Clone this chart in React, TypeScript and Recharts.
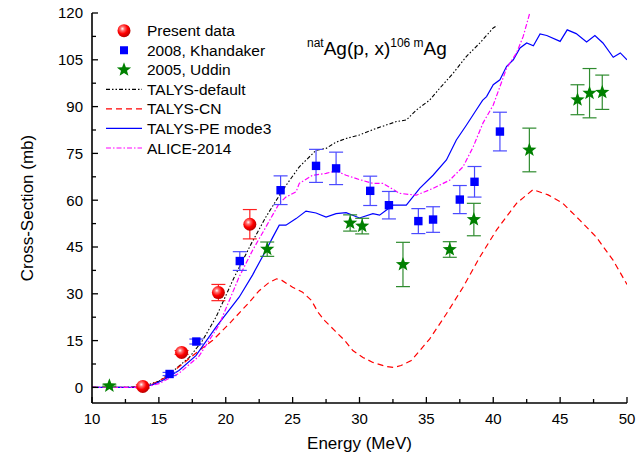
import React from "react";
import { ComposedChart, ErrorBar, Line, Scatter, XAxis, YAxis } from "recharts";

// measured points
const presentE = [13.8, 16.7, 19.45, 21.8];
const presentV = [0.3, 11.2, 30.4, 52.3];
const presentErr = [0.5, 0.6, 2.6, 4.7];

const khandakerE = [15.8, 17.8, 21.05, 24.1, 26.75, 28.25, 30.8, 32.2, 34.4, 35.5, 37.5, 38.6, 40.5];
const khandakerV = [4.3, 14.7, 40.5, 63.2, 71.0, 70.2, 63.0, 58.4, 53.3, 53.8, 60.2, 65.9, 82.0];
const khandakerErr = [0.5, 0.8, 3.0, 4.6, 5.3, 5.2, 4.7, 4.4, 4.0, 4.1, 4.5, 4.9, 6.2];

const uddinE = [11.3, 23.1, 29.3, 30.2, 33.25, 36.75, 38.55, 42.7, 46.3, 47.2, 48.15];
const uddinV = [0.5, 44.3, 52.7, 51.7, 39.4, 44.2, 53.8, 76.1, 92.2, 94.3, 94.6];
const uddinErr = [0.3, 2.3, 2.6, 2.5, 7.1, 2.5, 5.2, 7.0, 4.8, 7.9, 5.5];

// model curves
const defaultE = [10, 12, 13, 14, 15, 16, 17.27, 18.26, 19.27, 20.6, 21.9, 23, 24.25, 25.5, 26.75, 27.5, 28.2, 29, 30, 31.25, 32.75, 33.5, 34.25, 35.25, 36, 37, 38, 39, 40, 40.3];
const defaultV = [0, 0, 0.1, 0.6, 2, 5, 9.6, 15, 22.5, 35, 46, 54.6, 63.2, 70.7, 76, 76.6, 78.5, 79.8, 80.9, 83, 85.2, 85.7, 88.9, 92.1, 95.9, 100.7, 106.1, 110.4, 115.2, 116];

const cnE = [10, 13, 14.27, 15.5, 16.77, 18, 19, 20.26, 21.76, 22.5, 23.2, 23.8, 24.2, 25, 25.75, 26.4, 26.9, 27.4, 28.15, 28.9, 29.5, 30.26, 31, 32, 32.6, 33.1, 33.87, 35.24, 36.5, 37.74, 39, 40.24, 41.74, 42.98, 44.1, 45.2, 46.47, 47.7, 48.97, 50];
const cnV = [0, 0, 0.5, 3.2, 7.5, 11.8, 15, 20.4, 27.3, 31, 33.5, 34.8, 34.3, 32.1, 30.5, 27.9, 24.1, 21.4, 18.2, 15, 11.8, 9.6, 8, 6.7, 6.4, 7, 8.6, 15.5, 23.6, 32.1, 41.8, 50.4, 59, 63.4, 61.7, 59, 53.6, 48.2, 40.7, 33];

const peE = [10, 12, 13.5, 14.5, 15.27, 16.5, 17.77, 19.27, 21, 22, 23, 23.5, 24, 24.5, 25.26, 26, 26.75, 27.5, 28.25, 29, 30, 31, 31.5, 32.5, 33.5, 34.5, 35.5, 36.5, 37.24, 38, 38.73, 39.2, 39.5, 40, 40.5, 41, 41.5, 42, 42.5, 43, 43.5, 44, 45, 45.53, 46.2, 46.98, 47.6, 48.2, 48.97, 49.5, 50];
const peV = [0, 0, 0.1, 0.8, 2.2, 5.4, 10.2, 19.3, 28.9, 36, 43.9, 48, 52, 52, 54.1, 56.5, 55.9, 54.6, 55.7, 56, 54.3, 55.7, 55.2, 58.4, 58.4, 63.8, 68, 72.9, 79.3, 84.1, 88.9, 92, 93.2, 97, 98.6, 102.9, 105, 108.8, 110.4, 109.5, 113.3, 112.8, 110.9, 114.6, 113.4, 110.7, 112.8, 110.4, 105.8, 107.2, 105];

const aliceE = [10, 13, 14, 15, 16.5, 18, 19.5, 21, 22, 23, 24, 24.5, 25.26, 25.5, 26.5, 27.5, 28.25, 29, 30, 31, 31.75, 33, 34.25, 35.5, 36.74, 37.74, 38.5, 39.23, 40, 41, 41.74, 42.24, 42.73];
const aliceV = [0, 0, 0.1, 1.2, 4.5, 10, 20, 35.4, 43.9, 51.4, 59, 61, 62.7, 65.4, 68, 68.6, 69.4, 68, 66.6, 65.4, 65.4, 62.2, 61.6, 63.8, 66.4, 70.7, 77.1, 84.7, 90.5, 102.3, 107.2, 112.5, 120];

const xTicks = [10, 12.5, 15, 17.5, 20, 22.5, 25, 27.5, 30, 32.5, 35, 37.5, 40, 42.5, 45, 47.5, 50];
const yTicks = [0, 7.5, 15, 22.5, 30, 37.5, 45, 52.5, 60, 67.5, 75, 82.5, 90, 97.5, 105, 112.5, 120];

const pts = (xs: number[], ys: number[], errs?: number[]) =>
  xs.map((x, i) => ({ x, y: ys[i], err: errs ? errs[i] : 0 }));

const FONT = "Arial, 'Liberation Sans', sans-serif";

const BottomTick = (p: any) => {
  const v = p.payload.value;
  const major = v % 5 === 0;
  return (
    <g>
      <line x1={p.x} x2={p.x} y1={p.y} y2={p.y - (major ? 6 : 4)} stroke="#000" strokeWidth={1.3} />
      {major && (
        <text x={p.x} y={p.y + 20.5} textAnchor="middle" fontSize={15} fontFamily={FONT} fill="#000">
          {v}
        </text>
      )}
    </g>
  );
};

const TopTick = (p: any) => {
  const major = p.payload.value % 5 === 0;
  return <line x1={p.x} x2={p.x} y1={p.y} y2={p.y + (major ? 6 : 4)} stroke="#000" strokeWidth={1.3} />;
};

const LeftTick = (p: any) => {
  const v = p.payload.value;
  const major = v % 15 === 0;
  return (
    <g>
      <line x1={p.x} x2={p.x + (major ? 6 : 4)} y1={p.y} y2={p.y} stroke="#000" strokeWidth={1.3} />
      {major && (
        <text x={p.x - 9} y={p.y + 5.3} textAnchor="end" fontSize={15} fontFamily={FONT} fill="#000">
          {v}
        </text>
      )}
    </g>
  );
};

const RightTick = (p: any) => {
  const major = p.payload.value % 15 === 0;
  return <line x1={p.x} x2={p.x - (major ? 6 : 4)} y1={p.y} y2={p.y} stroke="#000" strokeWidth={1.3} />;
};

const Ball = ({ cx, cy }: any) => <circle cx={cx} cy={cy} r={6.5} fill="url(#ballGrad)" />;
const Square = ({ cx, cy }: any) => <rect x={cx - 4.2} y={cy - 4.2} width={8.4} height={8.4} fill="#0000ff" />;

function starPath(cx: number, cy: number, R: number) {
  const r = R * 0.42;
  let d = "";
  for (let i = 0; i < 10; i++) {
    const a = (Math.PI / 5) * i - Math.PI / 2;
    const rr = i % 2 === 0 ? R : r;
    d += (i === 0 ? "M" : "L") + (cx + rr * Math.cos(a)).toFixed(2) + "," + (cy + rr * Math.sin(a)).toFixed(2);
  }
  return d + "Z";
}
const Star = ({ cx, cy }: any) => <path d={starPath(cx, cy, 7.5)} fill="#008000" />;

const legendRows = [
  { label: "Present data", kind: "ball" },
  { label: "2008, Khandaker", kind: "square" },
  { label: "2005, Uddin", kind: "star" },
  { label: "TALYS-default", kind: "line", color: "#000000", dash: "4 2 1.5 2 1.5 2" },
  { label: "TALYS-CN", kind: "line", color: "#ff0000", dash: "6 4" },
  { label: "TALYS-PE mode3", kind: "line", color: "#0000ff", dash: "" },
  { label: "ALICE-2014", kind: "line", color: "#ff00ff", dash: "5 2 1.5 2" },
];

export default function App() {
  return (
    <div style={{ position: "relative", width: 636, height: 459, background: "#fff" }}>
      <style>{"body{margin:0}"}</style>
      <svg width={0} height={0} style={{ position: "absolute" }}>
        <defs>
          <radialGradient id="ballGrad" cx="0.38" cy="0.35" r="0.7">
            <stop offset="0" stopColor="#ffffff" />
            <stop offset="0.22" stopColor="#ff7070" />
            <stop offset="0.55" stopColor="#ff0000" />
            <stop offset="1" stopColor="#b00000" />
          </radialGradient>
        </defs>
      </svg>
      <ComposedChart width={636} height={459} margin={{ top: 13, right: 9, left: 0, bottom: 0 }}>
        <XAxis
          dataKey="x"
          type="number"
          domain={[10, 50]}
          ticks={xTicks}
          interval={0}
          allowDataOverflow
          height={56}
          tickSize={0}
          tickMargin={0}
          tickLine={false}
          tick={BottomTick}
          axisLine={{ stroke: "#000", strokeWidth: 1.6 }}
          label={{ value: "Energy (MeV)", position: "insideBottom", offset: 10, fontSize: 17, fontFamily: FONT, fill: "#000" }}
        />
        <XAxis
          xAxisId="top"
          orientation="top"
          dataKey="x"
          type="number"
          domain={[10, 50]}
          ticks={xTicks}
          interval={0}
          height={0}
          tickSize={0}
          tickMargin={0}
          tickLine={false}
          tick={TopTick}
          axisLine={{ stroke: "#000", strokeWidth: 1.6 }}
        />
        <YAxis
          type="number"
          domain={[-5, 120]}
          ticks={yTicks}
          interval={0}
          allowDataOverflow
          width={92}
          tickSize={0}
          tickMargin={0}
          tickLine={false}
          tick={LeftTick}
          axisLine={{ stroke: "#000", strokeWidth: 1.6 }}
          label={{ value: "Cross-Section (mb)", angle: -90, position: "insideLeft", offset: 27, style: { textAnchor: "middle" }, fontSize: 17, fontFamily: FONT, fill: "#000" }}
        />
        <YAxis
          yAxisId="right"
          orientation="right"
          type="number"
          domain={[-5, 120]}
          ticks={yTicks}
          interval={0}
          width={0}
          tickSize={0}
          tickMargin={0}
          tickLine={false}
          tick={RightTick}
          axisLine={{ stroke: "#000", strokeWidth: 1.6 }}
        />
        <Line data={pts(defaultE, defaultV)} dataKey="y" type="linear" stroke="#000000" strokeWidth={1.1} strokeDasharray="4 2 1.5 2 1.5 2" dot={false} activeDot={false} isAnimationActive={false} />
        <Line data={pts(cnE, cnV)} dataKey="y" type="linear" stroke="#ff0000" strokeWidth={1.2} strokeDasharray="6 4" dot={false} activeDot={false} isAnimationActive={false} />
        <Line data={pts(peE, peV)} dataKey="y" type="linear" stroke="#0000ff" strokeWidth={1.2} dot={false} activeDot={false} isAnimationActive={false} />
        <Line data={pts(aliceE, aliceV)} dataKey="y" type="linear" stroke="#ff00ff" strokeWidth={1.2} strokeDasharray="5 2 1.5 2" dot={false} activeDot={false} isAnimationActive={false} />
        <Scatter data={pts(uddinE, uddinV, uddinErr)} dataKey="y" shape={Star} isAnimationActive={false}>
          <ErrorBar dataKey="err" direction="y" width={7} stroke="#2e8b2e" strokeWidth={1.2} isAnimationActive={false} />
        </Scatter>
        <Scatter data={pts(khandakerE, khandakerV, khandakerErr)} dataKey="y" shape={Square} isAnimationActive={false}>
          <ErrorBar dataKey="err" direction="y" width={7} stroke="#4a4aff" strokeWidth={1.2} isAnimationActive={false} />
        </Scatter>
        <Scatter data={pts(presentE, presentV, presentErr)} dataKey="y" shape={Ball} isAnimationActive={false}>
          <ErrorBar dataKey="err" direction="y" width={7} stroke="#ff2020" strokeWidth={1.2} isAnimationActive={false} />
        </Scatter>
      </ComposedChart>
      <svg width={636} height={459} style={{ position: "absolute", left: 0, top: 0, pointerEvents: "none" }}>
        {legendRows.map((r, i) => {
          const y = 30.7 + i * 19.55;
          return (
            <g key={r.label}>
              {r.kind === "ball" && <Ball cx={124} cy={y} />}
              {r.kind === "square" && <rect x={120} y={y - 4} width={8} height={8} fill="#0000ff" />}
              {r.kind === "star" && <Star cx={124} cy={y} />}
              {r.kind === "line" && (
                <line x1={106} x2={142} y1={y} y2={y} stroke={r.color} strokeWidth={1.2} strokeDasharray={r.dash || undefined} />
              )}
              <text x={147} y={y + 5.5} fontSize={15.5} fontFamily={FONT} fill="#000">
                {r.label}
              </text>
            </g>
          );
        })}
        <text x={307} y={55} fontSize={19} fontFamily={FONT} fill="#000">
          <tspan fontSize={12} dy={-8}>nat</tspan>
          <tspan fontSize={19} dy={8}>Ag(p, x)</tspan>
          <tspan fontSize={12} dy={-8}>106 m</tspan>
          <tspan fontSize={19} dy={8}>Ag</tspan>
        </text>
      </svg>
    </div>
  );
}
